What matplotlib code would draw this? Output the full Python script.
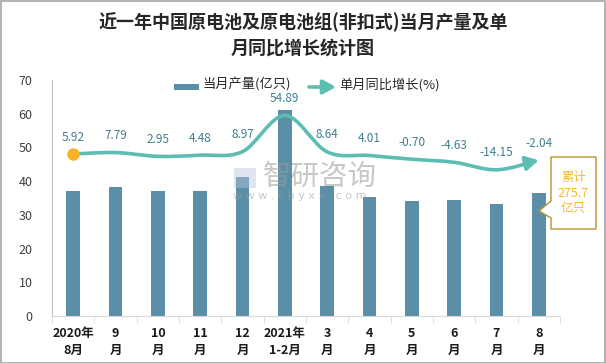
import matplotlib
matplotlib.use("Agg")
import matplotlib.pyplot as plt
from matplotlib.path import Path
from matplotlib.patches import FancyArrowPatch, Rectangle, Polygon
import numpy as np

plt.rcParams['font.family'] = ['Noto Sans CJK SC', 'DejaVu Sans']

categories = ["2020年\n8月", "9\n月", "10\n月", "11\n月", "12\n月", "2021年\n1-2月",
              "3\n月", "4\n月", "5\n月", "6\n月", "7\n月", "8\n月"]
output = [37.0, 38.3, 37.0, 37.0, 41.3, 61.0, 38.6, 35.4, 34.1, 34.5, 33.2, 36.4]
growth = [5.92, 7.79, 2.95, 4.48, 8.97, 54.89, 8.64, 4.01, -0.70, -4.63, -14.15, -2.04]
growth_labels = ["5.92", "7.79", "2.95", "4.48", "8.97", "54.89", "8.64", "4.01",
                 "-0.70", "-4.63", "-14.15", "-2.04"]
title = "近一年中国原电池及原电池组(非扣式)当月产量及单\n月同比增长统计图"
bar_name = "当月产量(亿只)"
line_name = "单月同比增长(%)"
callout = "累计\n275.7\n亿只"

W, H = 606, 363
fig = plt.figure(figsize=(W / 100, H / 100), dpi=100)

bar_color = "#5B8FA7"
line_color = "#5DBDB3"
label_color = "#3E7F8E"

ax = fig.add_axes([52 / W, (H - 316) / H, (560 - 52) / W, (316 - 80) / H])
x = np.arange(len(categories))
ax.bar(x, output, width=0.33, color=bar_color, zorder=2)
ax.set_xlim(-0.5, len(categories) - 0.5)
ax.set_ylim(0, 70)
ax.set_yticks(range(0, 71, 10))
ax.tick_params(axis='y', length=0, labelsize=9, labelcolor="#404040", pad=14)
for s in ["top", "right"]:
    ax.spines[s].set_visible(False)
ax.spines["left"].set_color("#BFBFBF")
ax.spines["bottom"].set_color("#D9D9D9")
ax.set_xticks(x)
ax.set_xticklabels(categories, fontsize=9, fontweight='bold', color="#1A1A1A", linespacing=1.35)
ax.tick_params(axis='x', length=0, pad=8)
ax.set_xticks(np.arange(-0.5, len(categories), 1.0), minor=True)
ax.tick_params(axis='x', which='minor', length=5, color="#D9D9D9", direction='out')

# secondary axis for growth line
ax2 = ax.twinx()
ax2.set_ylim(-200, 100)
ax2.axis('off')

# smooth (Catmull-Rom -> Bezier) path
pts = np.column_stack([x, growth]).astype(float)
n = len(pts)
verts = [tuple(pts[0])]
codes = [Path.MOVETO]
for i in range(n - 1):
    p0 = pts[i - 1] if i > 0 else pts[i]
    p1 = pts[i]
    p2 = pts[i + 1]
    p3 = pts[i + 2] if i + 2 < n else pts[i + 1]
    c1 = p1 + (p2 - p0) / 6.0
    c2 = p2 - (p3 - p1) / 6.0
    verts += [tuple(c1), tuple(c2), tuple(p2)]
    codes += [Path.CURVE4] * 3
path = Path(verts, codes)
arrow = FancyArrowPatch(path=path, arrowstyle='-|>,head_length=0.55,head_width=0.3',
                        mutation_scale=14, color=line_color, lw=2.6,
                        transform=ax2.transData, zorder=3)
ax2.add_patch(arrow)
ax2.plot([x[0]], [growth[0]], 'o', color="#F5B325", ms=8, zorder=4)

for xi, g, lab in zip(x, growth, growth_labels):
    ax2.annotate(lab, (xi, g), xytext=(0, 7.5), textcoords='offset points',
                 ha='center', va='bottom', fontsize=8.5, color=label_color, zorder=5)

# watermark
fig.text(263 / W, 1 - 177 / H, "智研咨询", fontsize=20.5, color="#9A9A9A", alpha=0.55,
         ha='left', va='center', zorder=10)
fig.text(233 / W, 1 - 196 / H, "w w w . c h y x x . c o m", fontsize=8, color="#9A9A9A",
         alpha=0.55, ha='left', va='center', family='DejaVu Sans', zorder=10)
fig.patches.append(Rectangle((234 / W, 1 - 188 / H), 22 / W, 20 / H, transform=fig.transFigure,
                             facecolor="#B8C4DC", alpha=0.45, edgecolor='none', zorder=10))

# legend
fig.patches.append(Rectangle((174 / W, 1 - 90 / H), 25 / W, 6 / H, transform=fig.transFigure,
                             facecolor=bar_color, edgecolor='none'))
fig.text(202 / W, 1 - 85 / H, bar_name, fontsize=9.5, color="#262626", ha='left', va='center')
fig.patches.append(FancyArrowPatch((309 / W, 1 - 87 / H), (336 / W, 1 - 87 / H),
                                   transform=fig.transFigure, arrowstyle='-|>,head_length=0.55,head_width=0.3',
                                   mutation_scale=14, color=line_color, lw=2.6,
                                   shrinkA=0, shrinkB=0))
fig.text(339 / W, 1 - 85 / H, line_name, fontsize=9.5, color="#262626", ha='left', va='center')

# callout
bx0, bx1, by0, by1 = 551, 596, 157, 229
poly = [(bx0, by0), (bx1, by0), (bx1, by1), (bx0, by1), (bx0, 218), (539, 211), (bx0, 201)]
fig.patches.append(Polygon([(px / W, 1 - py / H) for px, py in poly], closed=True,
                           transform=fig.transFigure, facecolor='white', edgecolor="#B8902C",
                           lw=1.0, zorder=20))
fig.text((bx0 + bx1) / 2 / W, 1 - 193 / H, callout, fontsize=9, color="#F5B82E", ha='center',
         va='center', linespacing=1.25, zorder=21)

# title
fig.text(0.5, 1 - 35 / H, title, fontsize=13, fontweight='bold', color="#262626", ha='center',
         va='center', linespacing=1.45)

# figure border
fig.patches.append(Rectangle((0.5 / W, 0.5 / H), (W - 1.5) / W, (H - 1.5) / H,
                             transform=fig.transFigure, facecolor='none', edgecolor="#A6A6A6", lw=1.2))

fig.savefig("out.png", dpi=100)
